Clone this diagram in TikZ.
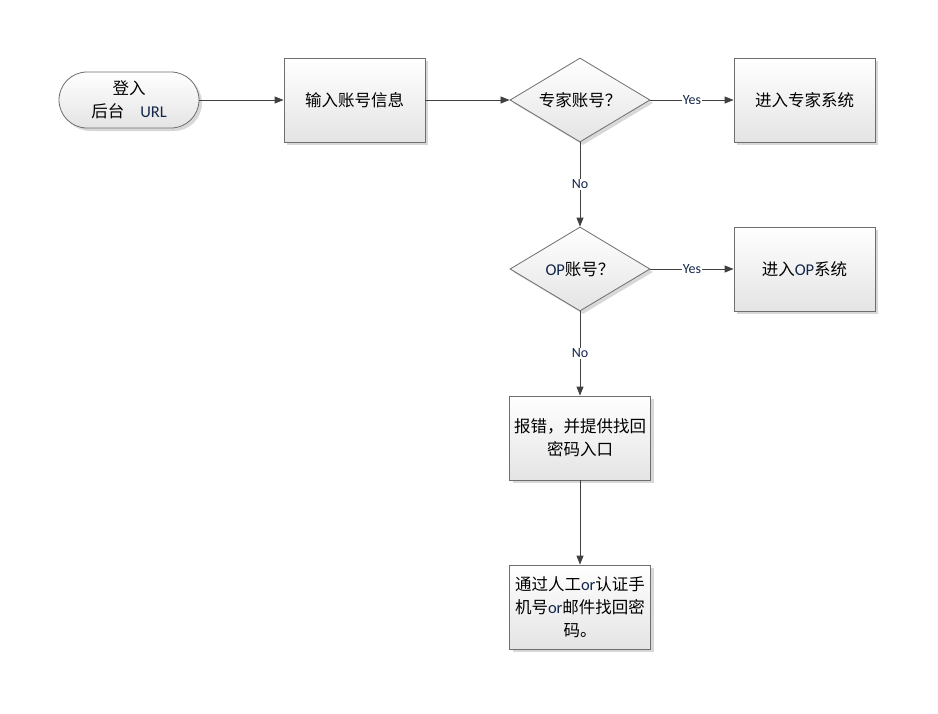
\documentclass[tikz,border=0pt]{standalone}
\usepackage{fontspec}
\setmainfont{Carlito}
\newfontfamily\cjk{Noto Sans CJK SC}
\newfontfamily\latf{Carlito}
\usetikzlibrary{shapes.geometric,shadows,arrows.meta}
\definecolor{edgec}{HTML}{6E6E6E}
\definecolor{latc}{HTML}{14264A}
\definecolor{fillbot}{HTML}{E4E4E4}
\definecolor{arrc}{HTML}{404040}
\newcommand{\lt}[1]{{\latf\color{latc}#1}}
\begin{document}
\begin{tikzpicture}[x=1pt,y=-1pt,
  base/.style={draw=edgec, line width=0.8pt, top color=white, bottom color=fillbot,
    drop shadow={shadow xshift=3pt, shadow yshift=-3pt, opacity=0.3, fill=gray},
    font=\cjk\fontsize{16.5}{23}\selectfont, align=center, inner sep=0pt},
  procbox/.style={base, rectangle, minimum width=141pt, minimum height=84pt},
  termbox/.style={base, rectangle, rounded corners=28pt, minimum width=140pt, minimum height=56pt},
  decbox/.style={base, diamond, aspect=1.667, minimum width=140pt, minimum height=84pt},
  conn/.style={draw=arrc, line width=0.8pt, -{Triangle[length=9pt,width=7pt]}},
  lbl/.style={fill=white, inner sep=1pt, font=\latf\fontsize{14}{16}\selectfont, text=latc}
]
\path[use as bounding box, fill=white] (0,0) rectangle (938,713);
\node[termbox] (start) at (129,100) {登入\\后台\hspace{16pt}\lt{URL}};
\node[procbox] (input) at (354.5,100) {输入账号信息};
\node[decbox] (q1) at (580,100) {专家账号？};
\node[procbox] (expert) at (804.5,100) {进入专家系统};
\node[decbox] (q2) at (580,269) {\lt{OP}账号？};
\node[procbox] (op) at (804.5,269) {进入\lt{OP}系统};
\node[procbox] (err) at (580,438) {报错，并提供找回\\密码入口};
\node[procbox] (reset) at (580,607) {通过人工\lt{or}认证手\\机号\lt{or}邮件找回密\\码。};
\draw[conn] (start) -- (input);
\draw[conn] (input) -- (q1);
\draw[conn] (q1) -- node[lbl] {Yes} (expert);
\draw[conn] (q1) -- node[lbl] {No} (q2);
\draw[conn] (q2) -- node[lbl] {Yes} (op);
\draw[conn] (q2) -- node[lbl] {No} (err);
\draw[conn] (err) -- (reset);
\end{tikzpicture}
\end{document}
